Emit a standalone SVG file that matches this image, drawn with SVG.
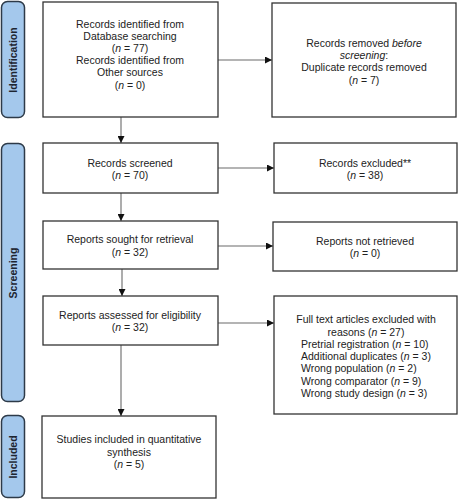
<svg xmlns="http://www.w3.org/2000/svg" width="458" height="500" viewBox="0 0 458 500">
<style>
.bar{fill:#a4c8ec;stroke:#2d3a48;stroke-width:1.5}
.box{fill:#fff;stroke:#333;stroke-width:1.3}
.t{font-family:"Liberation Sans",Arial,sans-serif;font-size:10.5px;fill:#222;text-anchor:middle}
.l{text-anchor:start}
.s{font-family:"Liberation Sans",Arial,sans-serif;font-size:10.5px;font-weight:bold;fill:#1e2530;text-anchor:middle}
.c{fill:none;stroke:#6a6a6a;stroke-width:1.1}
</style>
<defs>
<marker id="a" viewBox="0 0 10 10" refX="10" refY="5" markerWidth="7" markerHeight="7" markerUnits="userSpaceOnUse" orient="auto">
<path d="M0,0 L10,5 L0,10 z" fill="#111"/>
</marker>
</defs>
<rect width="458" height="500" fill="#fff"/>
<g id="phase-identification">
<rect class="bar" x="1.5" y="1.5" width="23" height="116" rx="6"/>
<text class="s" transform="translate(17,60) rotate(-90)">Identification</text>
</g>
<g id="phase-screening">
<rect class="bar" x="1.5" y="143.5" width="23" height="258" rx="6"/>
<text class="s" transform="translate(17,273) rotate(-90)">Screening</text>
</g>
<g id="phase-included">
<rect class="bar" x="1.5" y="415.5" width="23" height="82" rx="6"/>
<text class="s" transform="translate(17,457) rotate(-90)">Included</text>
</g>
<g id="connectors">
<line class="c" x1="121" y1="117" x2="121" y2="143" marker-end="url(#a)"/>
<line class="c" x1="218" y1="60" x2="272" y2="60" marker-end="url(#a)"/>
<line class="c" x1="121" y1="193" x2="121" y2="221" marker-end="url(#a)"/>
<line class="c" x1="218" y1="168" x2="274" y2="168" marker-end="url(#a)"/>
<line class="c" x1="122" y1="269" x2="122" y2="296" marker-end="url(#a)"/>
<line class="c" x1="218" y1="246" x2="273" y2="246" marker-end="url(#a)"/>
<line class="c" x1="218" y1="323" x2="274" y2="323" marker-end="url(#a)"/>
<line class="c" x1="121" y1="345" x2="121" y2="416" marker-end="url(#a)"/>
</g>
<g id="records-identified">
<rect class="box" x="43" y="2" width="175" height="115"/>
<text class="t" x="130" y="28">Records identified from</text>
<text class="t" x="130" y="40">Database searching</text>
<text class="t" x="130" y="52">(<tspan font-style="italic">n</tspan> = 77)</text>
<text class="t" x="130" y="64">Records identified from</text>
<text class="t" x="130" y="76">Other sources</text>
<text class="t" x="130" y="89">(<tspan font-style="italic">n</tspan> = 0)</text>
</g>
<g id="records-removed">
<rect class="box" x="272" y="3" width="184" height="114"/>
<text class="t" x="364" y="47">Records removed <tspan font-style="italic">before</tspan></text>
<text class="t" x="364" y="59"><tspan font-style="italic">screening</tspan>:</text>
<text class="t" x="364" y="71">Duplicate records removed</text>
<text class="t" x="364" y="84">(<tspan font-style="italic">n</tspan> = 7)</text>
</g>
<g id="records-screened">
<rect class="box" x="43" y="143" width="175" height="50"/>
<text class="t" x="130" y="167">Records screened</text>
<text class="t" x="130" y="179">(<tspan font-style="italic">n</tspan> = 70)</text>
</g>
<g id="records-excluded">
<rect class="box" x="274" y="143" width="183" height="50"/>
<text class="t" x="365" y="167">Records excluded**</text>
<text class="t" x="365" y="179">(<tspan font-style="italic">n</tspan> = 38)</text>
</g>
<g id="reports-sought">
<rect class="box" x="43" y="221" width="175" height="48"/>
<text class="t" x="130" y="243">Reports sought for retrieval</text>
<text class="t" x="130" y="256">(<tspan font-style="italic">n</tspan> = 32)</text>
</g>
<g id="reports-not-retrieved">
<rect class="box" x="273" y="222" width="184" height="49"/>
<text class="t" x="365" y="245">Reports not retrieved</text>
<text class="t" x="365" y="257">(<tspan font-style="italic">n</tspan> = 0)</text>
</g>
<g id="reports-assessed">
<rect class="box" x="43" y="296" width="175" height="49"/>
<text class="t" x="130" y="319">Reports assessed for eligibility</text>
<text class="t" x="130" y="331">(<tspan font-style="italic">n</tspan> = 32)</text>
</g>
<g id="full-text-excluded">
<rect class="box" x="274" y="296" width="183" height="118"/>
<text class="t" x="366" y="323">Full text articles excluded with</text>
<text class="t" x="366" y="336">reasons (<tspan font-style="italic">n</tspan> = 27)</text>
<text class="t l" x="301" y="348">Pretrial registration (<tspan font-style="italic">n</tspan> = 10)</text>
<text class="t l" x="301" y="360">Additional duplicates (<tspan font-style="italic">n</tspan> = 3)</text>
<text class="t l" x="301" y="372">Wrong population (<tspan font-style="italic">n</tspan> = 2)</text>
<text class="t l" x="301" y="385">Wrong comparator (<tspan font-style="italic">n</tspan> = 9)</text>
<text class="t l" x="301" y="397">Wrong study design (<tspan font-style="italic">n</tspan> = 3)</text>
</g>
<g id="studies-included">
<rect class="box" x="42" y="416" width="174" height="82"/>
<text class="t" x="129" y="443">Studies included in quantitative</text>
<text class="t" x="129" y="456">synthesis</text>
<text class="t" x="129" y="468">(<tspan font-style="italic">n</tspan> = 5)</text>
</g>
</svg>
